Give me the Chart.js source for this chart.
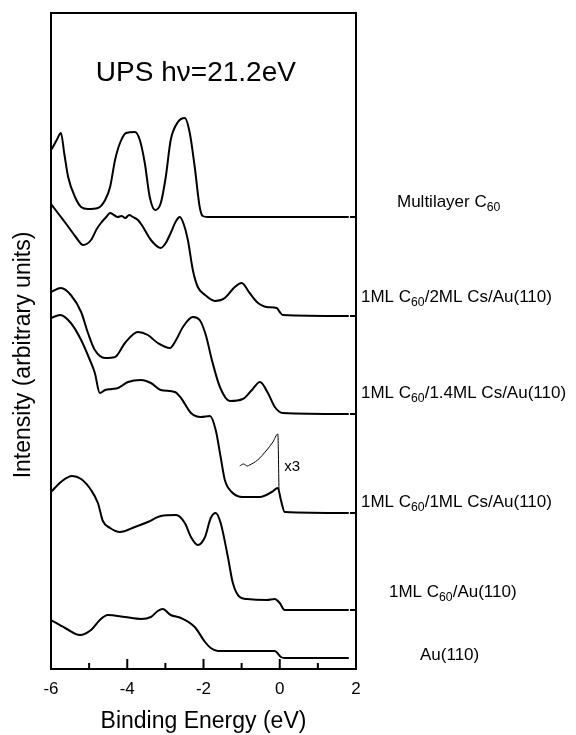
<!DOCTYPE html>
<html>
<head>
<meta charset="utf-8">
<script src="https://cdn.jsdelivr.net/npm/chart.js@4.4.1/dist/chart.umd.min.js"></script>
<style>
  html, body { margin: 0; padding: 0; background: #fff; }
  #wrap { width: 576px; height: 735px; position: relative; }
</style>
</head>
<body>
<div id="wrap"><canvas id="upsChart"></canvas></div>
<script>
// Binding energy (eV) and intensity (arbitrary units, spectra offset vertically)
const multiE = [-6.00, -5.95, -5.85, -5.74, -5.65, -5.55, -5.37, -5.21, -5.03, -4.77, -4.58, -4.45, -4.32, -4.19, -4.03, -3.80, -3.67, -3.54, -3.41, -3.27, -3.12, -2.99, -2.86, -2.67, -2.49, -2.36, -2.23, -2.10, -2.02, -1.89, 1.81];
const multiI = [519, 522, 529, 536, 515, 492, 472, 462, 460, 461, 469, 482, 509, 526, 536, 537, 529, 506, 472, 459, 466, 492, 529, 547, 551, 536, 502, 462, 453, 452, 452];

const cs2E = [-6.00, -5.80, -5.58, -5.35, -5.16, -4.95, -4.80, -4.69, -4.55, -4.45, -4.35, -4.25, -4.15, -4.05, -3.95, -3.85, -3.72, -3.62, -3.54, -3.38, -3.12, -2.99, -2.86, -2.72, -2.62, -2.52, -2.41, -2.28, -2.15, -1.96, -1.70, -1.44, -1.18, -1.00, -0.79, -0.60, -0.34, -0.08, 0.00, 0.08, 1.81];
const cs2I = [465, 455, 444, 432, 424, 429, 440, 446, 452, 456, 454, 452, 453, 451, 454, 452, 449, 444, 439, 429, 421, 426, 436, 448, 452, 445, 429, 399, 382, 374, 368, 371, 382, 386, 376, 367, 362, 361, 357, 354, 353];

const cs14E = [-6.00, -5.74, -5.48, -5.21, -5.03, -4.85, -4.58, -4.32, -4.06, -3.72, -3.46, -3.20, -2.88, -2.72, -2.54, -2.28, -2.10, -1.94, -1.78, -1.57, -1.31, -0.97, -0.73, -0.52, -0.31, -0.13, 0.08, 1.81];
const cs14I = [377, 381, 374, 357, 336, 319, 311, 312, 326, 337, 334, 326, 321, 329, 342, 352, 349, 334, 309, 282, 268, 270, 279, 287, 276, 262, 256, 255];

const cs1E = [-6.00, -5.76, -5.48, -5.21, -4.98, -4.85, -4.72, -4.58, -4.40, -4.24, -3.98, -3.64, -3.38, -3.12, -2.75, -2.59, -2.33, -2.07, -1.83, -1.68, -1.55, -1.44, -1.26, -0.97, -0.52, -0.21, -0.05, 0.03, 0.13, 1.81];
const cs1I = [351, 354, 346, 329, 309, 296, 276, 279, 280, 281, 287, 289, 286, 279, 277, 271, 256, 252, 253, 239, 212, 189, 177, 172, 172, 177, 181, 169, 157, 156];

// near-Fermi region of the 1ML Cs spectrum, magnified x3
const x3E = [-1.05, -0.95, -0.85, -0.79, -0.58, -0.34, -0.18, -0.05, -0.02];
const x3I = [203, 205, 203, 204, 209, 219, 227, 235, 179];

const c60AuE = [-6.00, -5.74, -5.45, -5.21, -4.95, -4.77, -4.64, -4.45, -4.19, -3.80, -3.46, -3.12, -2.72, -2.49, -2.33, -2.15, -1.96, -1.81, -1.68, -1.55, -1.36, -1.23, -1.05, -0.86, -0.34, -0.13, 0.00, 0.13, 1.81];
const c60AuI = [177, 187, 193, 190, 179, 166, 148, 141, 137, 142, 147, 153, 154, 146, 132, 124, 132, 151, 156, 146, 112, 86, 72, 70, 69, 70, 66, 59, 59];

const auE = [-6.00, -5.63, -5.24, -4.95, -4.72, -4.51, -4.06, -3.64, -3.38, -3.20, -3.07, -2.86, -2.59, -2.23, -1.96, -1.81, -1.62, -0.13, 0.03, 0.13, 1.81];
const auI = [49, 41, 34, 39, 49, 54, 52, 50, 52, 58, 60, 54, 51, 42, 27, 21, 18, 18, 12, 11, 11];

// spectrum labels: odd entries are subscripts
const seriesLabels = [
    ['Multilayer C', '60'],
    ['1ML C', '60', '/2ML Cs/Au(110)'],
    ['1ML C', '60', '/1.4ML Cs/Au(110)'],
    ['1ML C', '60', '/1ML Cs/Au(110)'],
    ['1ML C', '60', '/Au(110)'],
    ['Au(110)']
];
// label placement: x offset right of the frame (px), y in intensity units
const labelAnchor = [[41, 467], [5, 372], [5, 276], [5, 167], [33, 77], [64, 14]];

const xTicks = [-6, -4, -2, 0, 2];

const FONT = '"Liberation Sans", Arial, sans-serif';
Chart.defaults.font.family = FONT;
Chart.defaults.color = '#000';

function pts(xs, ys) {
    return xs.map((x, i) => ({ x: x, y: ys[i] }));
}

function line(xs, ys, w) {
    return {
        data: pts(xs, ys),
        borderColor: '#000',
        borderWidth: w,
        pointRadius: 0,
        fill: false,
        cubicInterpolationMode: 'monotone'
    };
}

function drawSubText(ctx, parts, x, y, size) {
    let cx = x;
    parts.forEach((p, i) => {
        const sub = i % 2 === 1;
        ctx.font = (sub ? size * 0.72 : size) + 'px ' + FONT;
        ctx.fillText(p, cx, sub ? y + size * 0.32 : y);
        cx += ctx.measureText(p).width;
    });
}

const decor = {
    id: 'decor',
    afterDraw(chart) {
        const { ctx, chartArea: a, scales: { x, y } } = chart;
        ctx.save();
        ctx.strokeStyle = '#000';
        ctx.fillStyle = '#000';
        ctx.lineWidth = 2;
        ctx.strokeRect(a.left, a.top, a.right - a.left, a.bottom - a.top);

        // inward ticks along the energy axis
        ctx.beginPath();
        for (let v = -5; v <= 1; v++) {
            const px = x.getPixelForValue(v);
            const len = v % 2 === 0 ? 10 : 6;
            ctx.moveTo(px, a.bottom);
            ctx.lineTo(px, a.bottom - len);
        }
        // baseline markers on the right edge
        const bases = [multiI, cs2I, cs14I, cs1I, c60AuI];
        bases.forEach(s => {
            const py = y.getPixelForValue(s[s.length - 1]);
            ctx.moveTo(a.right - 6, py);
            ctx.lineTo(a.right, py);
        });
        ctx.stroke();

        // title inside the frame
        ctx.textAlign = 'center';
        ctx.textBaseline = 'middle';
        ctx.font = '28px ' + FONT;
        ctx.fillText('UPS h\u03bd=21.2eV', x.getPixelForValue(-2.2), y.getPixelForValue(596));

        ctx.textAlign = 'left';
        ctx.font = '15px ' + FONT;
        ctx.fillText('x3', x.getPixelForValue(0.12), y.getPixelForValue(202));

        // spectrum labels
        seriesLabels.forEach((parts, i) => {
            const [dx, val] = labelAnchor[i];
            drawSubText(ctx, parts, a.right + dx, y.getPixelForValue(val), 17);
        });

        // vertical axis title
        ctx.translate(24, 355);
        ctx.rotate(-Math.PI / 2);
        ctx.textAlign = 'center';
        ctx.font = '23px ' + FONT;
        ctx.fillText('Intensity (arbitrary units)', 0, 0);
        ctx.restore();
    }
};

new Chart(document.getElementById('upsChart'), {
    type: 'line',
    data: {
        datasets: [
            line(multiE, multiI, 2),
            line(cs2E, cs2I, 2),
            line(cs14E, cs14I, 2),
            line(cs1E, cs1I, 2),
            line(x3E, x3I, 1),
            line(c60AuE, c60AuI, 2),
            line(auE, auI, 2)
        ]
    },
    options: {
        responsive: true,
        maintainAspectRatio: false,
        animation: false,
        layout: { padding: { left: 51, top: 13, right: 220, bottom: 0 } },
        plugins: { legend: { display: false }, tooltip: { enabled: false } },
        scales: {
            x: {
                type: 'linear',
                min: -6,
                max: 2,
                afterFit(scale) { scale.height = 66; },
                afterBuildTicks(scale) { scale.ticks = xTicks.map(v => ({ value: v })); },
                grid: { display: false, drawTicks: false },
                border: { display: false },
                ticks: { padding: 10, font: { size: 17 }, color: '#000' },
                title: {
                    display: true,
                    text: 'Binding Energy (eV)',
                    font: { size: 23 },
                    color: '#000',
                    padding: { top: 0, bottom: 0 }
                }
            },
            y: {
                display: false,
                min: 0,
                max: 656
            }
        }
    },
    plugins: [decor]
});
</script>
</body>
</html>
